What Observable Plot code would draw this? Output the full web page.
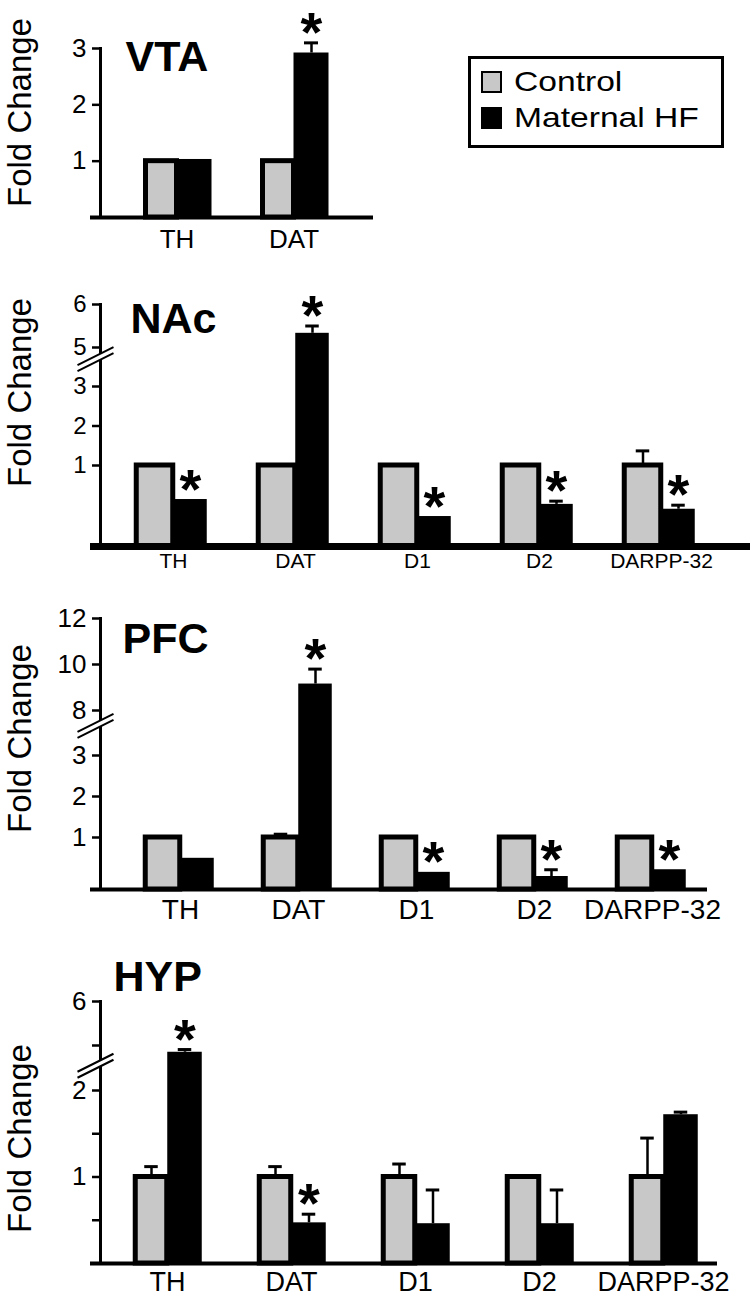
<!DOCTYPE html>
<html><head><meta charset="utf-8">
<script src="https://cdn.jsdelivr.net/npm/d3@7"></script>
<script src="https://cdn.jsdelivr.net/npm/@observablehq/plot@0.6"></script>
<style>
body{margin:0;background:#fff;}
#wrap{position:relative;width:750px;height:1296px;overflow:hidden;font-family:"Liberation Sans",Arial,sans-serif;background:#fff;}
#wrap svg{display:block;overflow:visible;}
.legend{position:absolute;left:468px;top:56px;width:250px;height:86px;border:3px solid #000;background:#fff;}
.legend .item{position:absolute;left:10px;display:flex;align-items:center;font-size:28px;line-height:28px;}
.legend .sw{width:21px;height:22px;margin-right:12px;box-sizing:border-box;border:2px solid #000;}
.legend .tx{display:inline-block;transform:scaleX(1.2);transform-origin:left center;}
</style></head><body><div id="wrap"></div>
<script>
// ---------- data ----------
const groups = ["Control", "Maternal HF"];
const regions = ["VTA", "NAc", "PFC", "HYP"];
const axisTitle = "Fold Change";

const vtaGenes = ["TH", "DAT"];
const vtaControl = [1, 1];
const vtaControlErr = [0, 0];
const vtaHF = [1.03, 2.92];
const vtaHFErr = [0, 0.18];
const vtaSig = [0, 1];
const vtaTicks = [1, 2, 3];
const vtaTickLabels = ["1", "2", "3"];

const nacGenes = ["TH", "DAT", "D1", "D2", "DARPP-32"];
const nacControl = [1, 1, 1, 1, 1];
const nacControlErr = [0, 0, 0, 0, 0.37];
const nacHF = [0.58, 5.33, 0.37, 0.52, 0.46];
const nacHFErr = [0, 0.17, 0, 0.04, 0.05];
const nacSig = [1, 1, 1, 1, 1];
const nacTicks = [1, 2, 3, 5, 6];
const nacTickLabels = ["1", "2", "3", "5", "6"];

const pfcGenes = ["TH", "DAT", "D1", "D2", "DARPP-32"];
const pfcControl = [1, 1, 1, 1, 1];
const pfcControlErr = [0, 0.08, 0, 0.01, 0.01];
const pfcHF = [0.6, 9.15, 0.33, 0.25, 0.38];
const pfcHFErr = [0, 0.65, 0, 0.13, 0];
const pfcSig = [0, 1, 1, 1, 1];
const pfcTicks = [1, 2, 3, 8, 10, 12];
const pfcTickLabels = ["1", "2", "3", "8", "10", "12"];

const hypGenes = ["TH", "DAT", "D1", "D2", "DARPP-32"];
const hypControl = [1, 1, 1, 1, 1];
const hypControlErr = [0.12, 0.12, 0.15, 0.01, 0.45];
const hypHF = [3.7, 0.47, 0.46, 0.46, 1.72];
const hypHFErr = [0.12, 0.1, 0.39, 0.39, 0.03];
const hypSig = [1, 1, 0, 0, 0];
const hypTicks = [0.5, 1, 1.5, 2, 4, 6];
const hypTickLabels = ["", "1", "", "2", "", "6"];

// ---------- layout (pixels) ----------
const FONT = "Liberation Sans, Arial, Helvetica, sans-serif";
const layouts = [
  {top: 0, height: 260, yDomain: [0, 3], yPix: [217, 48], xCenters: [176, 293], ctrlW: 31, hfW: 35,
   baseRight: 373, baseW: 4, titleX: 125, titleBase: 70, foldY: 112, labelSize: 26, labelPad: 12, tickSize: 26},
  {top: 260, height: 320, yDomain: [0, 1, 3, 5, 6], yPix: [546, 465, 386, 347, 304], xCenters: [172, 662], ctrlW: 37, hfW: 34,
   baseRight: 750, baseW: 7, titleX: 130, titleBase: 332, foldY: 392, labelSize: 21, labelPad: 7, tickSize: 24, breakAt: 4.4},
  {top: 580, height: 350, yDomain: [0, 1, 2, 3, 8, 10, 12], yPix: [889, 837, 796, 755, 710, 664, 618], xCenters: [179, 653], ctrlW: 35, hfW: 34,
   baseRight: 707, baseW: 4, titleX: 122, titleBase: 652, foldY: 738, labelSize: 28, labelPad: 10, tickSize: 26, breakAt: 6.3},
  {top: 930, height: 366, yDomain: [0, 2, 4, 6], yPix: [1263, 1090, 1045, 1001], xCenters: [166, 664], ctrlW: 32, hfW: 35,
   baseRight: 717, baseW: 4, titleX: 113, titleBase: 990, foldY: 1138, labelSize: 27, labelPad: 8, tickSize: 26, breakAt: 3.1}
];

const datasets = [
  {genes: vtaGenes, control: vtaControl, controlErr: vtaControlErr, hf: vtaHF, hfErr: vtaHFErr, sig: vtaSig, ticks: vtaTicks, tickLabels: vtaTickLabels},
  {genes: nacGenes, control: nacControl, controlErr: nacControlErr, hf: nacHF, hfErr: nacHFErr, sig: nacSig, ticks: nacTicks, tickLabels: nacTickLabels},
  {genes: pfcGenes, control: pfcControl, controlErr: pfcControlErr, hf: pfcHF, hfErr: pfcHFErr, sig: pfcSig, ticks: pfcTicks, tickLabels: pfcTickLabels},
  {genes: hypGenes, control: hypControl, controlErr: hypControlErr, hf: hypHF, hfErr: hypHFErr, sig: hypSig, ticks: hypTicks, tickLabels: hypTickLabels}
];

const breakMask = {draw(ctx) { ctx.moveTo(-23, 6); ctx.lineTo(13, -12); ctx.lineTo(13, -6); ctx.lineTo(-23, 12); ctx.closePath(); }};
const breakLines = {draw(ctx) { ctx.moveTo(-23, 6); ctx.lineTo(13, -12); ctx.moveTo(-23, 12); ctx.lineTo(13, -6); }};

function panel(D, L, title) {
  const rows = D.genes.flatMap((g, i) => [
    {gene: g, group: groups[0], value: D.control[i], err: D.controlErr[i], sig: false},
    {gene: g, group: groups[1], value: D.hf[i], err: D.hfErr[i], sig: !!D.sig[i]}
  ]);
  const ctrl = rows.filter(d => d.group === groups[0]);
  const mhf = rows.filter(d => d.group === groups[1]);
  const n = D.genes.length;
  const step = (L.xCenters[1] - L.xCenters[0]) / (n - 1);
  const half = step / 2;
  const xRange = [L.xCenters[0] - half, L.xCenters[1] + half];
  const yRange = L.yPix.map(v => v - L.top);
  const mt = Math.min(...yRange);
  const base = Math.max(...yRange);
  const labelMap = new Map(D.ticks.map((t, i) => [t, D.tickLabels[i]]));
  const cap = 7;
  const marks = [
    Plot.barY(mhf, {x: "gene", y: "value", fill: "black", insetLeft: half, insetRight: half - L.hfW}),
    Plot.barY(ctrl, {x: "gene", y: "value", fill: "#c8c8c8", stroke: "black", strokeWidth: 5, insetLeft: half - L.ctrlW, insetRight: half}),
    Plot.ruleX(ctrl.filter(d => d.err > 0), {x: "gene", y1: "value", y2: d => d.value + d.err, dx: -L.ctrlW / 2, strokeWidth: 2.5}),
    Plot.ruleX(mhf.filter(d => d.err > 0), {x: "gene", y1: "value", y2: d => d.value + d.err, dx: L.hfW / 2, strokeWidth: 2.5}),
    Plot.tickY(ctrl.filter(d => d.err > 0), {x: "gene", y: d => d.value + d.err, dx: -L.ctrlW / 2, insetLeft: half - cap, insetRight: half - cap, strokeWidth: 3}),
    Plot.tickY(mhf.filter(d => d.err > 0), {x: "gene", y: d => d.value + d.err, dx: L.hfW / 2, insetLeft: half - cap, insetRight: half - cap, strokeWidth: 3}),
    Plot.text(mhf.filter(d => d.sig), {x: "gene", y: d => d.value + d.err, text: () => "*", dx: L.hfW / 2, dy: 8, lineAnchor: "bottom", fontSize: 56, fontWeight: "bold"}),
    Plot.ruleY([0], {strokeWidth: L.baseW, insetLeft: -10}),
    Plot.frame({anchor: "left", strokeWidth: 3}),
    Plot.axisY({ticks: D.ticks, tickFormat: d => labelMap.get(d), tickSize: 8, tickPadding: 6, strokeWidth: 2.5, fontSize: L.tickSize, label: null}),
    Plot.axisX({tickSize: 0, tickPadding: L.labelPad, fontSize: L.labelSize, label: null}),
    Plot.text([title], {text: d => d, frameAnchor: "top-left", textAnchor: "start", lineAnchor: "bottom",
      dx: L.titleX - 100, dy: (L.titleBase - L.top) - mt, fontSize: 43, fontWeight: "bold"}),
    Plot.text([axisTitle], {text: d => d, frameAnchor: "left", rotate: -90, textAnchor: "middle", lineAnchor: "middle",
      dx: 20 - 100, dy: (L.foldY - L.top) - (mt + base) / 2, fontSize: 33})
  ];
  if (L.breakAt !== undefined) {
    marks.push(Plot.dot([L.breakAt], {y: d => d, frameAnchor: "left", symbol: breakMask, fill: "white", stroke: "none"}));
    marks.push(Plot.dot([L.breakAt], {y: d => d, frameAnchor: "left", symbol: breakLines, fill: "none", stroke: "black", strokeWidth: 2}));
  }
  return Plot.plot({
    width: 750, height: L.height,
    marginLeft: 100, marginRight: 750 - L.baseRight, marginTop: mt, marginBottom: L.height - base,
    style: {fontFamily: FONT, background: "transparent", color: "black", overflow: "visible"},
    x: {type: "band", domain: D.genes, range: xRange, padding: 0},
    y: {type: "linear", domain: L.yDomain, range: yRange},
    marks
  });
}

const wrap = document.getElementById("wrap");
datasets.forEach((D, i) => {
  const svg = panel(D, layouts[i], regions[i]);
  svg.style.position = "absolute";
  svg.style.left = "0px";
  svg.style.top = layouts[i].top + "px";
  wrap.appendChild(svg);
});

// legend
const legend = document.createElement("div");
legend.className = "legend";
groups.forEach((g, i) => {
  const item = document.createElement("div");
  item.className = "item";
  item.style.top = (i === 0 ? 9 : 45) + "px";
  const sw = document.createElement("div");
  sw.className = "sw";
  sw.style.background = i === 0 ? "#c8c8c8" : "#000";
  const tx = document.createElement("span");
  tx.className = "tx";
  tx.textContent = g;
  item.appendChild(sw);
  item.appendChild(tx);
  legend.appendChild(item);
});
wrap.appendChild(legend);
</script></body></html>
